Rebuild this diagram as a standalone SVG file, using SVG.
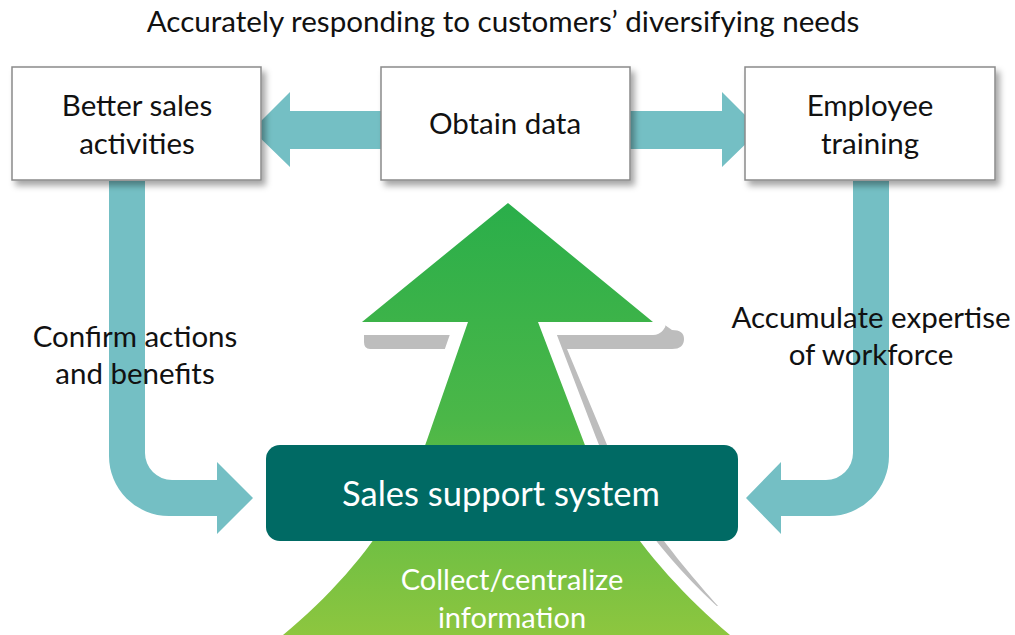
<svg xmlns="http://www.w3.org/2000/svg" width="1015" height="635" viewBox="0 0 1015 635">
<style>
.t{font-family:Lato,"Open Sans","Liberation Sans",sans-serif;fill:#111;text-anchor:middle;font-size:29.5px}
.w{font-family:Lato,"Open Sans","Liberation Sans",sans-serif;fill:#fff;text-anchor:middle;font-size:29px}
.box{fill:#fff;stroke:#8a8a8a;stroke-width:1.5}
.conn{fill:#74BFC4}
</style>
<defs>
<linearGradient id="g" x1="0" y1="203" x2="0" y2="635" gradientUnits="userSpaceOnUse">
<stop offset="0" stop-color="#2AAE4A"/>
<stop offset="0.5" stop-color="#4BB748"/>
<stop offset="1" stop-color="#8DC63F"/>
</linearGradient>
<filter id="sh" x="-10%" y="-10%" width="125%" height="135%">
<feDropShadow dx="4" dy="5" stdDeviation="3" flood-color="#000" flood-opacity="0.35"/>
</filter>
</defs>
<rect width="1015" height="635" fill="#fff"/>
<g id="big-arrow">
<path d="M364 330 L508 215 L672 330 Q684 330 684 339 Q684 349 672 349 L567 349 L605 440 C633 510 688 572 718 606 L600 606 L470 349 L370 349 Q364 349 364 342 Z" fill="#BDBDBD"/>
<path d="M508 203 L653 322 L538 322 L583 440 C608 510 665 580 730 635 L283 635 C350 580 403 510 427 440 L468 322 L362 322 Z" fill="url(#g)" stroke="#fff" stroke-width="26" paint-order="stroke" stroke-linejoin="round"/>
</g>
<g id="connectors">
<polygon class="conn" points="381,111 290,111 290,92 252,130 290,167 290,149 381,149"/>
<polygon class="conn" points="630,111 722,111 722,92 760,130 722,167 722,149 630,149"/>
<path class="conn" d="M109 181 L109 456 A60 60 0 0 0 169 516 L217 516 L217 534 L253 498 L217 462 L217 480 L172 480 A27 27 0 0 1 145 453 L145 181 Z"/>
<path class="conn" d="M889 181 L889 456 A60 60 0 0 1 829 516 L781 516 L781 534 L746 498 L781 462 L781 480 L826 480 A27 27 0 0 0 853 453 L853 181 Z"/>
</g>
<text class="t" x="503" y="32" style="font-size:29.6px">Accurately responding to customers’ diversifying needs</text>
<g id="better-sales">
<rect class="box" x="12" y="67" width="249" height="113" filter="url(#sh)"/>
<text class="t" x="137" y="116">Better sales</text>
<text class="t" x="137" y="154">activities</text>
</g>
<g id="obtain-data">
<rect class="box" x="381" y="67" width="249" height="113" filter="url(#sh)"/>
<text class="t" x="505" y="134">Obtain data</text>
</g>
<g id="employee-training">
<rect class="box" x="745" y="67" width="250" height="113" filter="url(#sh)"/>
<text class="t" x="870" y="116">Employee</text>
<text class="t" x="870" y="154">training</text>
</g>
<g id="label-confirm">
<text class="t" x="135" y="347">Confirm actions</text>
<text class="t" x="135" y="384">and benefits</text>
</g>
<g id="label-accumulate">
<text class="t" x="871" y="328">Accumulate expertise</text>
<text class="t" x="871" y="365">of workforce</text>
</g>
<g id="sales-support">
<rect x="266" y="445" width="472" height="96" rx="14" fill="#006A64"/>
<text class="w" x="501" y="506" style="font-size:34.5px">Sales support system</text>
</g>
<g id="collect">
<text class="w" x="512" y="590">Collect/centralize</text>
<text class="w" x="512" y="628">information</text>
</g>
</svg>
